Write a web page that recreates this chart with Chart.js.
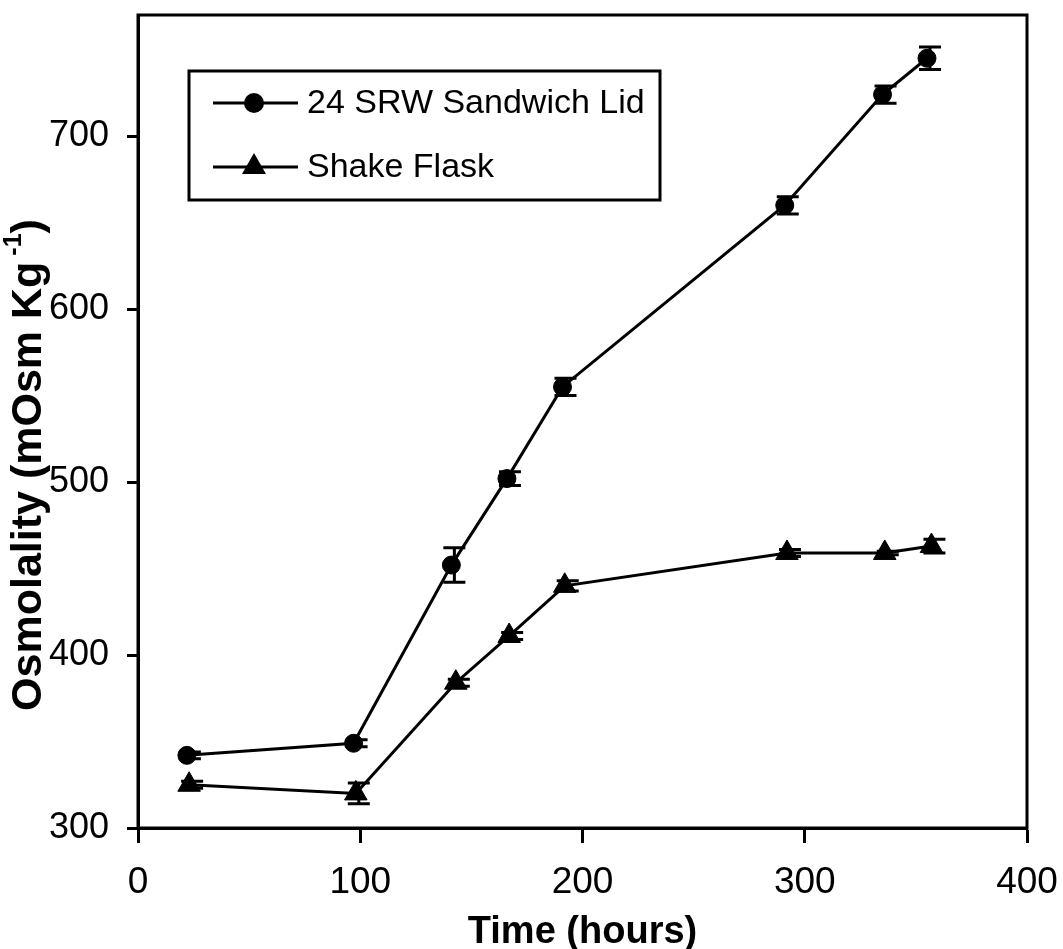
<!DOCTYPE html>
<html>
<head>
<meta charset="utf-8">
<title>Osmolality</title>
<script src="https://cdn.jsdelivr.net/npm/chart.js@4.4.1/dist/chart.umd.min.js"></script>
<style>
  html, body { margin: 0; padding: 0; background: #fff; }
  canvas { display: block; }
</style>
</head>
<body>
<canvas id="osmoChart" width="1063" height="949"></canvas>
<script>
// values
const lidHours = [22, 97, 141, 166, 191, 291, 335, 355];
const lidOsm = [342, 349, 452, 502, 555, 660, 724, 745];
const lidErr = [2, 2, 10, 4, 5, 5, 5, 6.5];

const flaskHours = [23, 98, 143, 167, 192, 292, 336, 357];
const flaskOsm = [325, 320, 384, 411, 440, 459, 459, 463];
const flaskErr = [2, 6, 2, 2, 3, 2, 1, 4];

const xTicks = [0, 100, 200, 300, 400];
const yTicks = [300, 400, 500, 600, 700];

const seriesNames = ['24 SRW Sandwich Lid', 'Shake Flask'];

const FONT = "'Liberation Sans', Arial, sans-serif";

function toPoints(xs, ys) {
  return xs.map((x, i) => ({x: x, y: ys[i]}));
}

// error bars, drawn through the chart scales
const errorBars = {
  id: 'errorBars',
  beforeDatasetsDraw(chart) {
    const ctx = chart.ctx;
    const xs = chart.scales.x, ys = chart.scales.y;
    ctx.save();
    ctx.strokeStyle = '#000';
    ctx.lineWidth = 3;
    chart.data.datasets.forEach((ds) => {
      ds.data.forEach((p, i) => {
        const e = ds.errors[i];
        const px = xs.getPixelForValue(p.x) + 3;
        const top = ys.getPixelForValue(p.y + e);
        const bot = ys.getPixelForValue(p.y - e);
        ctx.beginPath();
        ctx.moveTo(px, top); ctx.lineTo(px, bot);
        ctx.moveTo(px - 11, top); ctx.lineTo(px + 11, top);
        ctx.moveTo(px - 11, bot); ctx.lineTo(px + 11, bot);
        ctx.stroke();
      });
    });
    ctx.restore();
  }
};

// box round the plot, legend and the y title with its superscript
const decorations = {
  id: 'decorations',
  afterDraw(chart) {
    const ctx = chart.ctx;
    const a = chart.chartArea;
    ctx.save();
    ctx.strokeStyle = '#000';
    ctx.lineWidth = 3;
    ctx.strokeRect(a.left, a.top, a.right - a.left, a.bottom - a.top);

    // legend
    ctx.strokeRect(189, 71, 471, 129);
    const rows = [103, 167];
    rows.forEach((ry, i) => {
      ctx.beginPath();
      ctx.moveTo(213, ry); ctx.lineTo(298, ry);
      ctx.stroke();
      ctx.fillStyle = '#000';
      ctx.beginPath();
      if (i === 0) {
        ctx.arc(254, ry, 10, 0, Math.PI * 2);
      } else {
        ctx.moveTo(254, ry - 14);
        ctx.lineTo(254 + 12, ry + 7);
        ctx.lineTo(254 - 12, ry + 7);
        ctx.closePath();
      }
      ctx.fill();
      ctx.font = '34px ' + FONT;
      ctx.textBaseline = 'middle';
      ctx.textAlign = 'left';
      ctx.fillText(seriesNames[i], 307, ry + 1);
    });

    // y axis title
    const main = 'Osmolality (mOsm Kg';
    const sup = '-1';
    const end = ')';
    const big = 'bold 43px ' + FONT;
    const small = 'bold 25px ' + FONT;
    ctx.font = big;
    const wMain = ctx.measureText(main).width;
    const wEnd = ctx.measureText(end).width;
    ctx.font = small;
    const wSup = ctx.measureText(sup).width;
    const gap = 6;
    const total = wMain + gap + wSup + wEnd;
    ctx.translate(29, 465);
    ctx.rotate(-Math.PI / 2);
    ctx.textBaseline = 'middle';
    ctx.textAlign = 'left';
    let x = -total / 2;
    ctx.font = big;
    ctx.fillText(main, x, 0);
    x += wMain + gap;
    ctx.font = small;
    ctx.fillText(sup, x, -15);
    x += wSup;
    ctx.font = big;
    ctx.fillText(end, x, 0);
    ctx.restore();
  }
};

new Chart(document.getElementById('osmoChart'), {
  type: 'line',
  data: {
    datasets: [{
      label: seriesNames[0],
      data: toPoints(lidHours, lidOsm),
      errors: lidErr,
      borderColor: '#000',
      borderWidth: 3,
      pointStyle: 'circle',
      pointRadius: 9,
      pointBorderWidth: 1,
      pointBackgroundColor: '#000',
      pointBorderColor: '#000',
      tension: 0
    }, {
      label: seriesNames[1],
      data: toPoints(flaskHours, flaskOsm),
      errors: flaskErr,
      borderColor: '#000',
      borderWidth: 3,
      pointStyle: 'triangle',
      pointRadius: 13,
      pointBorderWidth: 1,
      pointBackgroundColor: '#000',
      pointBorderColor: '#000',
      tension: 0
    }]
  },
  options: {
    responsive: false,
    animation: false,
    devicePixelRatio: 1,
    layout: { padding: { top: 15, right: 36, left: 0, bottom: 0 } },
    plugins: {
      legend: { display: false },
      tooltip: { enabled: false }
    },
    scales: {
      x: {
        type: 'linear',
        min: 0,
        max: 400,
        afterBuildTicks: (s) => { s.ticks = xTicks.map(v => ({value: v})); },
        afterFit: (s) => { s.height = 121; s.paddingLeft = 0; s.paddingRight = 0; },
        border: { display: true, color: '#000', width: 3 },
        grid: { display: true, drawOnChartArea: false, tickLength: 15, tickWidth: 3, tickColor: '#000' },
        ticks: { color: '#000', padding: 18, maxRotation: 0, font: { family: FONT, size: 37 } },
        title: {
          display: true,
          text: 'Time (hours)',
          color: '#000',
          padding: 0,
          font: { family: FONT, size: 38, weight: 'bold', lineHeight: 0.85 }
        }
      },
      y: {
        type: 'linear',
        min: 300,
        max: 770,
        afterBuildTicks: (s) => { s.ticks = yTicks.map(v => ({value: v})); },
        afterFit: (s) => { s.width = 138; s.paddingTop = 0; s.paddingBottom = 0; },
        border: { display: true, color: '#000', width: 3 },
        grid: { display: true, drawOnChartArea: false, tickLength: 11, tickWidth: 3, tickColor: '#000' },
        ticks: { color: '#000', padding: 18, font: { family: FONT, size: 36 } }
      }
    }
  },
  plugins: [errorBars, decorations]
});
</script>
</body>
</html>
